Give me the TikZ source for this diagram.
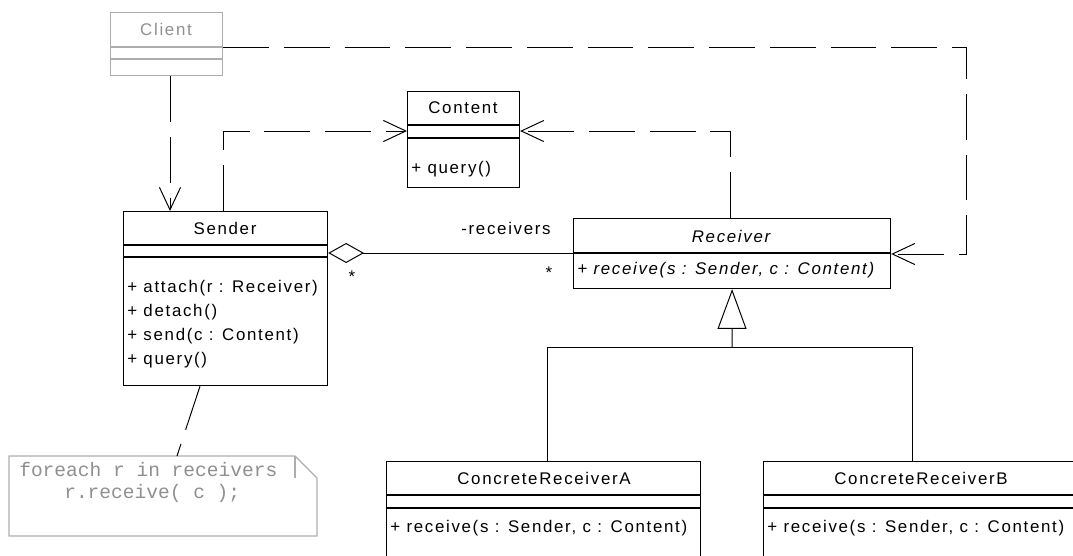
\documentclass[tikz,border=0pt]{standalone}
\usepackage{fontspec}
\setmainfont[LetterSpace=10]{Liberation Sans}
\newfontfamily\codefont{Liberation Mono}
\usetikzlibrary{arrows.meta}

\definecolor{ghostline}{gray}{0.68}
\definecolor{ghosttext}{gray}{0.56}

\tikzset{
    classbox/.style={draw, line width=0.8pt, inner sep=0pt, anchor=north west},
    cname/.style={font=\fontsize{12pt}{14pt}\selectfont, inner sep=0pt},
    op/.style={font=\fontsize{12pt}{14pt}\selectfont, inner sep=0pt, anchor=west},
    codetext/.style={font=\codefont\fontsize{13.9pt}{16pt}\selectfont, text=ghosttext, inner sep=0pt, anchor=west},
    dashline/.style={line width=0.7pt, dash pattern=on 32.6pt off 10.6pt},
    dep/.style={dashline, -{Straight Barb[length=16pt, width=15pt]}},
    agg/.style={line width=0.7pt, {Diamond[open, length=25.5pt, width=14.2pt]}-},
    gen/.style={line width=0.7pt, -{Triangle[open, length=28.3pt, width=20.6pt]}}
}

\begin{document}
\begin{tikzpicture}[x=0.025cm, y=-0.025cm]
    \useasboundingbox (0,0) rectangle (1073,555);
    \clip (0,0) rectangle (1073,555);

    % Client
    \node[classbox, draw=ghostline, minimum width=2.8cm, minimum height=1.575cm] (client) at (110,12) {};
    \draw[ghostline, line width=0.8pt] (110,47) -- (222,47) (110,59) -- (222,59);
    \node[cname, text=ghosttext] (clientname) at (166,29) {Client};

    % Content
    \node[classbox, minimum width=2.8cm, minimum height=2.4cm] (content) at (407,91) {};
    \draw[line width=0.8pt] (407,125) -- (519,125) (407,138) -- (519,138);
    \node[cname] (contentname) at (463,108) {Content};
    \node[op] (contentquery) at (411,169) {+ query()};

    % Sender
    \node[classbox, minimum width=5.1cm, minimum height=4.35cm] (sender) at (123,211) {};
    \draw[line width=0.8pt] (123,245) -- (327,245) (123,257) -- (327,257);
    \node[cname] (sendername) at (225,228) {Sender};
    \node[op] (attach) at (127,288) {+ attach(r : Receiver)};
    \node[op] (detach) at (127,312) {+ detach()};
    \node[op] (send) at (127,336) {+ send(c : Content)};
    \node[op] (senderquery) at (127,360) {+ query()};

    % Receiver
    \node[classbox, minimum width=7.925cm, minimum height=1.75cm] (receiver) at (573,218) {};
    \draw[line width=0.8pt] (573,253) -- (890,253);
    \node[cname] (receivername) at (731,236) {\itshape Receiver};
    \node[op] (receive) at (577,270) {\itshape + receive(s : Sender, c : Content)};

    % concrete receivers
    \node[classbox, minimum width=7.85cm, minimum height=3cm] (conca) at (386,461) {};
    \draw[line width=0.8pt] (386,495) -- (700,495) (386,508) -- (700,508);
    \node[cname] (concaname) at (544,478) {ConcreteReceiverA};
    \node[op] (receivea) at (390,528) {+ receive(s : Sender, c : Content)};

    \node[classbox, minimum width=7.85cm, minimum height=3cm] (concb) at (763,461) {};
    \draw[line width=0.8pt] (763,495) -- (1077,495) (763,508) -- (1077,508);
    \node[cname] (concbname) at (921,478) {ConcreteReceiverB};
    \node[op] (receiveb) at (767,528) {+ receive(s : Sender, c : Content)};

    % note
    \draw[ghostline, line width=0.8pt] (9,456) -- (295,456) -- (317,478) -- (317,536) -- (9,536) -- cycle;
    \draw[ghostline, line width=0.8pt] (295,456) -- (295,478);
    \coordinate (notetop) at (177,456);
    \node[codetext] (noteline1) at (19,470) {foreach r in receivers};
    \node[codetext] (noteline2) at (64,493) {r.receive( c );};

    % dependencies
    \draw[dep] (client.south -| 170,0) -- (sender.north -| 170,0);
    \draw[dep] (client.east |- 0,47) -- (966,47) |- (receiver.east |- 0,254);
    \draw[dep] (sender.north -| 223,0) |- (content.west |- 0,131);
    \draw[dep] (receiver.north -| 730,0) |- (content.east |- 0,131);
    \draw[dashline] (sender.south -| 200,0) -- (notetop);

    % aggregation
    \draw[agg] (sender.east |- 0,253) -- (receiver.west |- 0,253);
    \node[cname] (rolename) at (506,228) {-receivers};
    \node[cname, anchor=north] (multsender) at (352,271) {*};
    \node[cname, anchor=north] (multreceiver) at (549,267) {*};

    % generalization
    \coordinate (fork) at (732,347);
    \draw[line width=0.7pt] (conca.north -| 547,0) -- (547,347) -- (912,347) -- (concb.north -| 912,0);
    \draw[gen] (fork) -- (receiver.south);
\end{tikzpicture}
\end{document}
